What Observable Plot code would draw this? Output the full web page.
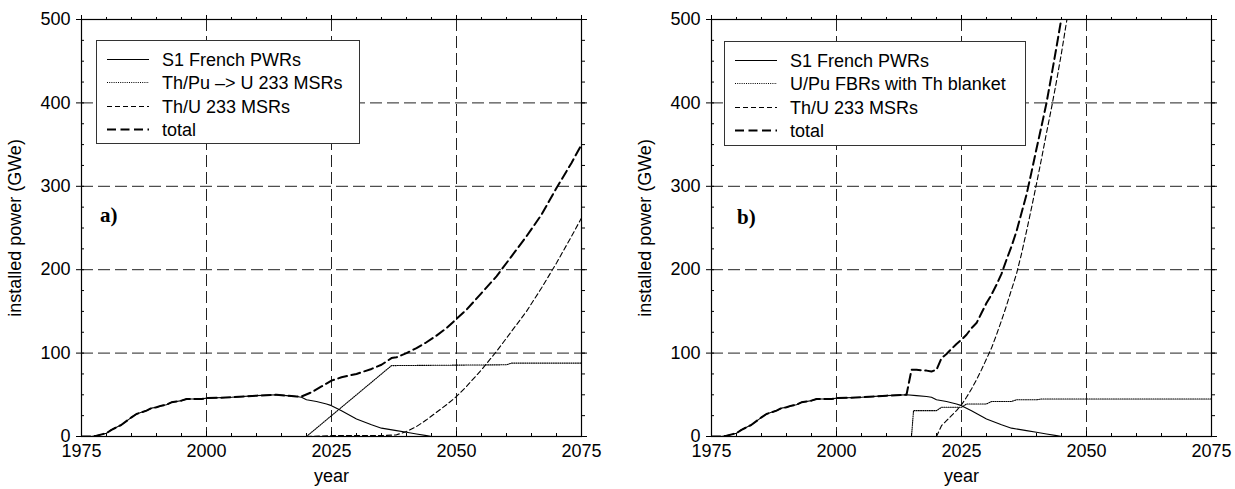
<!DOCTYPE html>
<html><head><meta charset="utf-8">
<script src="https://cdn.jsdelivr.net/npm/d3@7"></script>
<script src="https://cdn.jsdelivr.net/npm/@observablehq/plot@0.6"></script>
<style>
body{margin:0;background:#fff;}
#wrap{position:relative;width:1235px;height:489px;overflow:hidden;font-family:"Liberation Sans",Arial,Helvetica,sans-serif;}
.panel{position:absolute;top:0;}
.legend{position:absolute;border:1px solid #333;background:#fff;box-sizing:border-box;}
.legend .row{position:absolute;left:0;right:0;height:20px;line-height:20px;font-size:18px;color:#000;white-space:nowrap;}
.legend .row svg{position:absolute;left:10px;top:0;}
.legend .row span{position:absolute;left:65px;top:0;}
.tag{position:absolute;font-family:"Liberation Serif","Times New Roman",serif;font-weight:bold;font-size:21px;line-height:21px;color:#000;}
</style></head><body><div id="wrap"></div>
<script>
// ---------- data ----------
const xMajorTicks = [1975, 2000, 2025, 2050, 2075];
const xMinorTicks = [1975,1980,1985,1990,1995,2000,2005,2010,2015,2020,2025,2030,2035,2040,2045,2050,2055,2060,2065,2070,2075];
const yMajorTicks = [0, 100, 200, 300, 400, 500];
const yMinorTicks = [0,25,50,75,100,125,150,175,200,225,250,275,300,325,350,375,400,425,450,475,500];

// S1 French PWRs (same in both panels)
const pwrYears = [1975,1977,1978,1980,1981,1983,1985,1986,1987,1988,1989,1990,1991,1992,1993,1994,1995,1996,1997,1999,2000,2005,2010,2014,2016,2018,2019,2020,2022,2024,2025,2027,2030,2033,2035,2038,2040,2042,2044,2045];
const pwrGWe   = [0,0,1,4,8,14,23,27,29,31,34,35,37,38,41,42,43,45,45,45,46,47,49,50,49,48,47,44,42,39,37,31,21,14,10,7,5,3,1,0];

// panel a
const thPuYearsA = [2020, 2037, 2060, 2061, 2075];
const thPuGWeA   = [0, 85, 86, 88, 88];
const thUYearsA = [2020,2025,2030,2035,2038,2040,2042,2044,2046,2048,2050,2052,2055,2058,2061,2064,2067,2070,2073,2075];
const thUGWeA   = [0,1,1,1,2,6,12,20,29,38,48,60,80,102,126,150,178,208,240,262];
const totalYearsA = [1975,1977,1978,1980,1981,1983,1985,1986,1987,1988,1989,1990,1991,1992,1993,1994,1995,1996,1997,1999,2000,2005,2010,2014,2016,2018,2019,2021,2023,2025,2027,2030,2033,2035,2037,2038,2040,2042,2044,2046,2048,2050,2052,2055,2058,2061,2064,2067,2070,2073,2075];
const totalGWeA   = [0,0,1,4,8,14,23,27,29,31,34,35,37,38,41,42,43,45,45,45,46,47,49,50,49,48,48,53,60,67,71,75,81,86,94,95,100,106,113,121,130,141,152,172,192,216,240,266,298,328,350];

// panel b
const fbrYearsB = [2015,2015.4,2020,2021,2025,2026,2030,2031,2035,2036,2040,2041,2075];
const fbrGWeB   = [0,31,31,35,35,39,39,42,42,44,44,45,45];
const thUYearsB = [2020,2021,2022,2023,2024,2025,2026,2027,2028,2029,2030,2031,2032,2033,2034,2035,2036,2037,2038,2039,2040,2041,2042,2043,2044,2045,2046,2047];
const thUGWeB   = [0,13,19,25,31,38,47,57,68,80,93,106,122,139,157,176,195,219,246,274,303,333,364,394,426,460,497,530];
const totalYearsB = [1975,1977,1978,1980,1981,1983,1985,1986,1987,1988,1989,1990,1991,1992,1993,1994,1995,1996,1997,1999,2000,2005,2010,2014,2015,2016,2018,2019,2020,2021,2022,2023,2024,2025,2026,2027,2028,2029,2030,2031,2032,2033,2034,2035,2036,2037,2038,2039,2040,2041,2042,2043,2044,2045,2046];
const totalGWeB   = [0,0,1,4,8,14,23,27,29,31,34,35,37,38,41,42,43,45,45,45,46,47,49,50,80,80,79,78,80,94,99,105,111,116,122,130,136,148,160,170,182,195,212,228,246,268,290,317,345,372,400,433,467,502,540];

const labelsA = ["S1 French PWRs", "Th/Pu \u2013> U 233 MSRs", "Th/U 233 MSRs", "total"];
const labelsB = ["S1 French PWRs", "U/Pu FBRs with Th blanket", "Th/U 233 MSRs", "total"];

// ---------- styles ----------
const styles = [
  {width: 1.1, dash: null},        // solid
  {width: 1.1, dash: "1,1.2"},     // dotted
  {width: 1.1, dash: "5,3"},       // short dashes
  {width: 2, dash: "9,4.5"}        // long dashes (total)
];
const FONT = '"Liberation Sans", Arial, Helvetica, sans-serif';
const rows = (years, values) => years.map((year, i) => ({year, gwe: values[i]}));

function panel(series, width, marginLeft, marginRight) {
  const gridOpts = {stroke: "#222", strokeOpacity: 1, strokeWidth: 1, strokeDasharray: "12,5"};
  const lineMarks = [1, 2, 0, 3].map(k => Plot.line(series[k], {
    x: "year", y: "gwe", stroke: "#000", strokeWidth: styles[k].width,
    strokeDasharray: styles[k].dash, clip: true
  }));
  return Plot.plot({
    width, height: 489, marginLeft, marginRight, marginTop: 19, marginBottom: 53,
    style: {fontFamily: FONT, fontSize: "18px", background: "transparent", color: "#000", overflow: "visible"},
    x: {domain: [1975, 2075]},
    y: {domain: [0, 500]},
    marks: [
      Plot.gridX(xMajorTicks.slice(1, -1), gridOpts),
      Plot.gridY(yMajorTicks.slice(1, -1), gridOpts),
      ...lineMarks,
      Plot.frame({stroke: "#000", strokeWidth: 1.2}),
      Plot.axisX(xMajorTicks, {anchor: "bottom", tickSize: 0, tickPadding: 8, tickFormat: d => String(d),
        label: "year", labelAnchor: "center", labelArrow: "none", labelOffset: 45}),
      Plot.axisX(xMinorTicks, {anchor: "bottom", tickSize: -3, fill: "none", label: null}),
      Plot.axisX(xMajorTicks, {anchor: "bottom", tickSize: -5, fill: "none", label: null}),
      Plot.axisX(xMinorTicks, {anchor: "top", tickSize: 3, fill: "none", label: null}),
      Plot.axisX(xMajorTicks, {anchor: "top", tickSize: 5, fill: "none", label: null}),
      Plot.axisY(yMajorTicks, {anchor: "left", tickSize: 5, tickPadding: 6, tickFormat: d => String(d),
        label: "installed power (GWe)", labelAnchor: "center", labelArrow: "none", labelOffset: 73}),
      Plot.axisY(yMinorTicks, {anchor: "left", tickSize: -3, fill: "none", label: null}),
      Plot.axisY(yMinorTicks, {anchor: "right", tickSize: 3, fill: "none", label: null}),
      Plot.axisY(yMajorTicks, {anchor: "right", tickSize: 5, fill: "none", label: null})
    ]
  });
}

function legend(labels, left, top, w, h) {
  const box = document.createElement("div");
  box.className = "legend";
  Object.assign(box.style, {left: left + "px", top: top + "px", width: w + "px", height: h + "px"});
  labels.forEach((lab, i) => {
    const row = document.createElement("div");
    row.className = "row";
    row.style.top = (8.5 + 23.5 * i) + "px";
    const st = styles[i];
    row.innerHTML = `<svg width="44" height="20"><line x1="0" x2="42" y1="9.5" y2="9.5" stroke="#000" stroke-width="${st.width}" ${st.dash ? `stroke-dasharray="${st.dash}"` : ""}/></svg><span></span>`;
    row.querySelector("span").textContent = lab;
    box.appendChild(row);
  });
  return box;
}

function tag(text, left, top) {
  const d = document.createElement("div");
  d.className = "tag";
  d.textContent = text;
  Object.assign(d.style, {left: left + "px", top: top + "px"});
  return d;
}

const wrap = document.getElementById("wrap");

const seriesA = [rows(pwrYears, pwrGWe), rows(thPuYearsA, thPuGWeA), rows(thUYearsA, thUGWeA), rows(totalYearsA, totalGWeA)];
const seriesB = [rows(pwrYears, pwrGWe), rows(fbrYearsB, fbrGWeB), rows(thUYearsB, thUGWeB), rows(totalYearsB, totalGWeB)];

const pa = document.createElement("div"); pa.className = "panel"; pa.style.left = "0px";
pa.appendChild(panel(seriesA, 617, 81, 36));
wrap.appendChild(pa);
const pb = document.createElement("div"); pb.className = "panel"; pb.style.left = "617px";
pb.appendChild(panel(seriesB, 618, 94, 24));
wrap.appendChild(pb);

wrap.appendChild(legend(labelsA, 96, 40, 264, 104));
wrap.appendChild(legend(labelsB, 724, 41, 302, 105));
wrap.appendChild(tag("a)", 100, 205));
wrap.appendChild(tag("b)", 737, 207));
</script>
</body></html>
